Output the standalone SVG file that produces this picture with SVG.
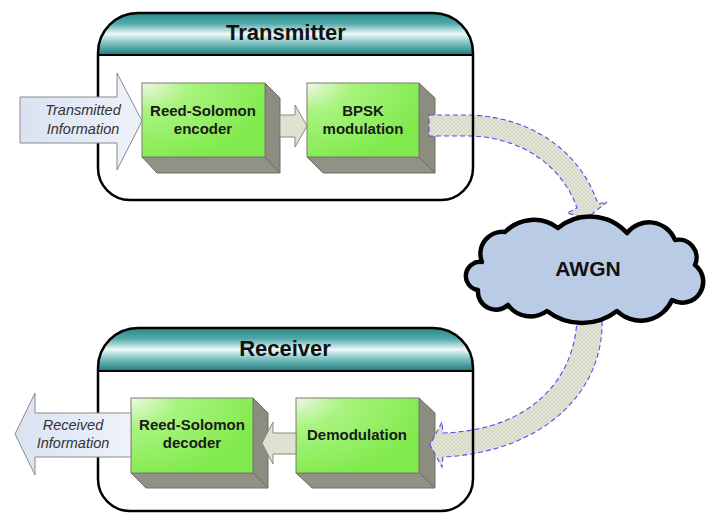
<svg xmlns="http://www.w3.org/2000/svg" width="706" height="513" viewBox="0 0 706 513">
  <defs>
    <style>
      .title { font-family: "Liberation Sans", Arial, sans-serif; font-weight: bold; font-size: 22px; fill: #111; text-anchor: middle; }
      .label { font-family: "Liberation Sans", Arial, sans-serif; font-weight: bold; font-size: 15px; fill: #1a1a1a; text-anchor: middle; }
      .io { font-family: "Liberation Sans", Arial, sans-serif; font-style: italic; font-size: 14.5px; fill: #333; text-anchor: middle; }
      .frame { fill: none; stroke: #000; stroke-width: 2.5; }
      .sep { stroke: #000; stroke-width: 2; }
      .front { fill: url(#boxGrad); stroke: #7c7c72; stroke-width: 1; }
      .side { fill: #8c8c81; stroke: #6e6e66; stroke-width: 1; }
      .bottom { fill: #919186; stroke: #6e6e66; stroke-width: 1; }
      .link { fill: #dfe2d0; stroke: #8b8b80; stroke-width: 1; }
      .flow { fill: url(#hatch); stroke: #4f4ff0; stroke-width: 1.1; stroke-dasharray: 5 3; }
      .ioarrow { fill: url(#ioGrad); stroke: #8a8a8a; stroke-width: 1; }
    </style>
    <linearGradient id="headGrad" x1="0" y1="0" x2="0" y2="1">
      <stop offset="0" stop-color="#2a8a8a"/>
      <stop offset="0.25" stop-color="#52a9a9"/>
      <stop offset="0.5" stop-color="#eef9f9"/>
      <stop offset="0.72" stop-color="#7cc1c1"/>
      <stop offset="1" stop-color="#1b7c7c"/>
    </linearGradient>
    <radialGradient id="boxGrad" cx="0" cy="0" r="1.1" fx="0" fy="0">
      <stop offset="0" stop-color="#eef7e6"/>
      <stop offset="0.35" stop-color="#a9f47f"/>
      <stop offset="1" stop-color="#80ea4c"/>
    </radialGradient>
    <linearGradient id="ioGrad" x1="0" y1="0" x2="1" y2="0">
      <stop offset="0" stop-color="#dae2f2"/>
      <stop offset="1" stop-color="#eef2fa"/>
    </linearGradient>
    <pattern id="hatch" width="4" height="4" patternUnits="userSpaceOnUse">
      <rect width="4" height="4" fill="#e1e4d4"/>
      <path d="M0 0 L4 4 M4 0 L0 4" stroke="#d0d4c0" stroke-width="0.6"/>
    </pattern>
  </defs>

  <rect width="706" height="513" fill="#ffffff"/>

  <!-- processing blocks (3D boxes) -->
  <g id="encoder">
    <polygon class="side" points="265,83 280,98 280,173 265,157"/>
    <polygon class="bottom" points="142,157 265,157 280,173 157,173"/>
    <rect class="front" x="142" y="83" width="123" height="74"/>
    <text class="label" x="203" y="116">Reed-Solomon</text>
    <text class="label" x="203" y="134">encoder</text>
  </g>
  <g id="modulator">
    <polygon class="side" points="419,83 435,98 435,173 419,157"/>
    <polygon class="bottom" points="307,157 419,157 435,173 323,173"/>
    <rect class="front" x="307" y="83" width="112" height="74"/>
    <text class="label" x="363" y="116">BPSK</text>
    <text class="label" x="363" y="134">modulation</text>
  </g>
  <g id="decoder">
    <polygon class="side" points="253,398 268,413 268,488 253,473"/>
    <polygon class="bottom" points="131,473 253,473 268,488 146,488"/>
    <rect class="front" x="131" y="398" width="122" height="75"/>
    <text class="label" x="192" y="430">Reed-Solomon</text>
    <text class="label" x="192" y="448">decoder</text>
  </g>
  <g id="demodulator">
    <polygon class="side" points="419,398 435,413 435,488 419,473"/>
    <polygon class="bottom" points="296,473 419,473 435,488 312,488"/>
    <rect class="front" x="296" y="398" width="123" height="75"/>
    <text class="label" x="357" y="440">Demodulation</text>
  </g>

  <!-- connectors -->
  <g id="connectors">
    <polygon class="link" points="280,115 295,115 295,105 307,126 295,147 295,137 280,137"/>
    <polygon class="link" points="296,433 273,433 273,422 262,443 273,464 273,454 296,454"/>
    <path class="flow" d="M429 115 L470 115 C530 117 580 150 598 204 L607 202 L587 218 L567 213 L577 208 C562 165 520 137 470 136 L429 136 Z"/>
    <path class="flow" d="M577 318 C575 380 530 430 443 433 L442 422 L430 445 L442 467 L443 457 C545 452 605 390 602 318 Z"/>
  </g>

  <!-- transmitter container -->
  <g id="transmitter">
    <path d="M98 55 L98 53 A40 40 0 0 1 138 13 L433 13 A40 40 0 0 1 473 53 L473 55 Z" fill="url(#headGrad)"/>
    <line class="sep" x1="98" y1="55" x2="473" y2="55"/>
    <path class="frame" d="M98 53 A40 40 0 0 1 138 13 L433 13 A40 40 0 0 1 473 53 L473 168 A32 32 0 0 1 441 200 L130 200 A32 32 0 0 1 98 168 Z"/>
    <text class="title" x="286" y="40">Transmitter</text>
  </g>

  <!-- receiver container -->
  <g id="receiver">
    <path d="M98 371 L98 368 A40 40 0 0 1 138 328 L433 328 A40 40 0 0 1 473 368 L473 371 Z" fill="url(#headGrad)"/>
    <line class="sep" x1="98" y1="371" x2="473" y2="371"/>
    <path class="frame" d="M98 368 A40 40 0 0 1 138 328 L433 328 A40 40 0 0 1 473 368 L473 479 A32 32 0 0 1 441 511 L130 511 A32 32 0 0 1 98 479 Z"/>
    <text class="title" x="285" y="356">Receiver</text>
  </g>

  <!-- input / output arrows -->
  <g id="tx-info">
    <polygon class="ioarrow" points="20,97 117,97 117,73 142,121 117,170 117,143 20,143"/>
    <text class="io" x="83" y="115">Transmitted</text>
    <text class="io" x="83" y="134">Information</text>
  </g>
  <g id="rx-info">
    <polygon class="ioarrow" points="131,413 35,413 35,393 15,434 35,475 35,457 131,457"/>
    <text class="io" x="73" y="430">Received</text>
    <text class="io" x="73" y="448">Information</text>
  </g>

  <!-- channel -->
  <g id="awgn">
    <path d="M482 262 A22 22 0 0 1 505 232 A40 40 0 0 1 558 228 A50 50 0 0 1 627 233 A28 28 0 0 1 675 240 A18 18 0 0 1 695 265 A21 21 0 0 1 672 300 A34 34 0 0 1 617 311 A57 57 0 0 1 547 311 A28 28 0 0 1 508 305 A18 18 0 0 1 478 290 A14 14 0 0 1 482 262 Z" fill="#b9cbe5" stroke="#000" stroke-width="4.5" stroke-linejoin="round"/>
    <text class="title" x="588" y="276" style="font-size:21px">AWGN</text>
  </g>
</svg>
